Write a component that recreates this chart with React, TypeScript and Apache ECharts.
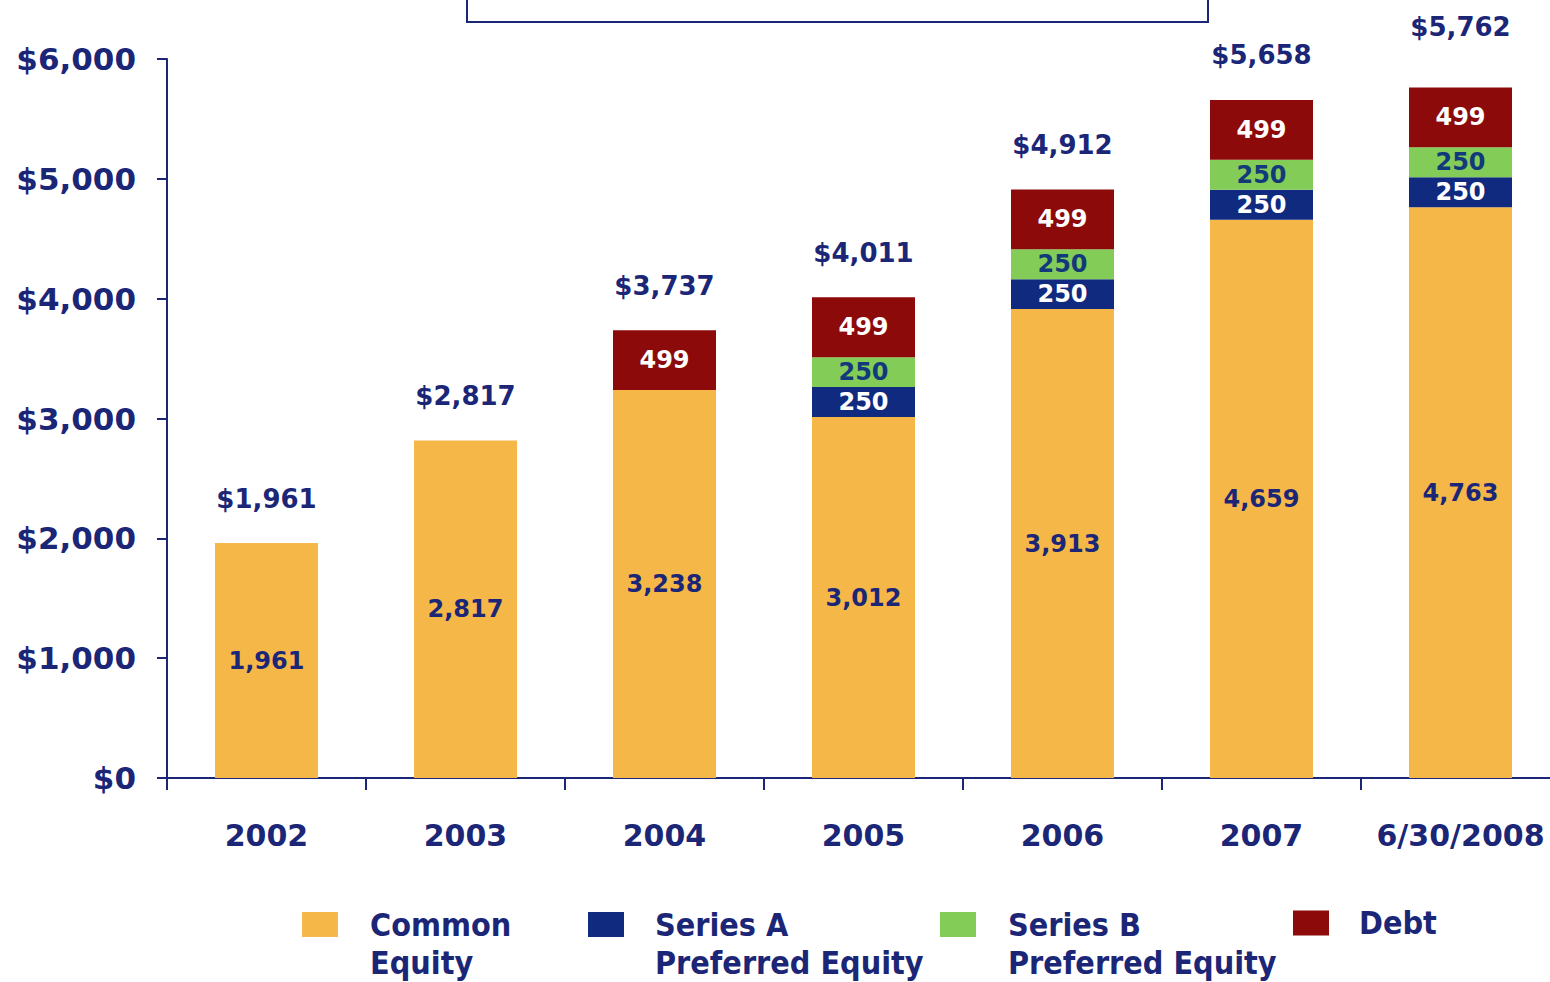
import React, { useEffect, useRef } from "react";
import * as echarts from "echarts";

const categories = ["2002", "2003", "2004", "2005", "2006", "2007", "6/30/2008"];
const commonEquity = [1961, 2817, 3238, 3012, 3913, 4659, 4763];
const seriesA = [null, null, null, 250, 250, 250, 250];
const seriesB = [null, null, null, 250, 250, 250, 250];
const debt = [null, null, 499, 499, 499, 499, 499];
const yTicks = [0, 1000, 2000, 3000, 4000, 5000, 6000];

const NAVY = "#1B2677";
const FONT = "DejaVu Sans";
const LEG_FONT = "'DejaVu Sans Condensed', 'DejaVu Sans', sans-serif";

const fmt = (v: number) => v.toLocaleString("en-US");

export default function App() {
  const ref = useRef<HTMLDivElement>(null);
  useEffect(() => {
    if (!ref.current) return;
    const chart = echarts.init(ref.current, null, { renderer: "svg" });
    const totals = categories.map(
      (_, i) =>
        (commonEquity[i] || 0) + (seriesA[i] || 0) + (seriesB[i] || 0) + (debt[i] || 0)
    );
    const inLabel = (color: string, size: number) => ({
      show: true,
      position: "inside",
      color,
      fontFamily: FONT,
      fontWeight: "bold",
      fontSize: size,
      formatter: (p: any) => fmt(p.value),
    });
    const legendBase = (name: string, left: number, top: number, padLeft: number) => ({
      data: [name],
      left,
      top,
      padding: 0,
      itemWidth: 36,
      itemHeight: 25,
      icon: "rect",
      selectedMode: false,
      formatter: (n: string) =>
        n === "Common Equity"
          ? "\nCommon\nEquity"
          : n === "Series A Preferred Equity"
          ? "\nSeries A\nPreferred Equity"
          : n === "Series B Preferred Equity"
          ? "\nSeries B\nPreferred Equity"
          : n,
      textStyle: {
        color: NAVY,
        fontFamily: LEG_FONT,
        fontWeight: "bold",
        fontSize: 32,
        lineHeight: 38,
        padding: [0, 0, 0, padLeft],
      },
    });
    chart.setOption({
      animation: false,
      backgroundColor: "#ffffff",
      grid: { left: 167, right: -10, top: 59, bottom: 204, outerBoundsMode: "none" },
      legend: [
        legendBase("Common Equity", 302, 867.5, 27),
        legendBase("Series A Preferred Equity", 588, 867.5, 26),
        legendBase("Series B Preferred Equity", 940, 867.5, 27),
        legendBase("Debt", 1293, 904, 25),
      ],
      xAxis: {
        type: "category",
        data: categories,
        axisLine: { show: true, lineStyle: { color: NAVY, width: 2 } },
        axisTick: { show: true, interval: 0, length: 12, lineStyle: { color: NAVY, width: 2 } },
        axisLabel: {
          interval: 0,
          color: NAVY,
          fontFamily: FONT,
          fontWeight: "bold",
          fontSize: 30,
          margin: 42,
        },
        splitLine: { show: false },
      },
      yAxis: {
        type: "value",
        min: 0,
        max: 6000,
        interval: 1000,
        axisLine: { show: true, lineStyle: { color: NAVY, width: 2 } },
        axisTick: { show: true, length: 10, lineStyle: { color: NAVY, width: 2 } },
        axisLabel: {
          color: NAVY,
          fontFamily: FONT,
          fontWeight: "bold",
          fontSize: 31,
          margin: 31,
          formatter: (v: number) => (yTicks.includes(v) ? "$" + fmt(v) : ""),
        },
        splitLine: { show: false },
      },
      series: [
        {
          name: "Common Equity",
          type: "bar",
          stack: "total",
          barWidth: 103,
          data: commonEquity,
          itemStyle: { color: "#F5B848" },
          label: inLabel(NAVY, 24),
        },
        {
          name: "Series A Preferred Equity",
          type: "bar",
          stack: "total",
          barWidth: 103,
          data: seriesA,
          itemStyle: { color: "#102A80" },
          label: inLabel("#ffffff", 24),
        },
        {
          name: "Series B Preferred Equity",
          type: "bar",
          stack: "total",
          barWidth: 103,
          data: seriesB,
          itemStyle: { color: "#84CC58" },
          label: inLabel("#123A7A", 24),
        },
        {
          name: "Debt",
          type: "bar",
          stack: "total",
          barWidth: 103,
          data: debt,
          itemStyle: { color: "#8C0A0A" },
          label: inLabel("#ffffff", 24),
        },
        {
          name: "Total",
          type: "scatter",
          symbolSize: 1,
          itemStyle: { color: "rgba(0,0,0,0)", opacity: 1 },
          data: totals.map((v, i) =>
            i === totals.length - 1 ? { value: v, label: { offset: [0, -16] } } : v
          ),
          label: {
            show: true,
            position: "top",
            distance: 31,
            color: NAVY,
            opacity: 1,
            fontFamily: FONT,
            fontWeight: "bold",
            fontSize: 26,
            formatter: (p: any) => "$" + fmt(p.value),
          },
          z: 10,
        },
      ],
      graphic: [
        {
          type: "rect",
          shape: { x: 467, y: -20, width: 741, height: 42 },
          style: { fill: "#ffffff", stroke: NAVY, lineWidth: 2 },
        },
      ],
    });
    return () => chart.dispose();
  }, []);
  return (
    <div
      ref={ref}
      style={{ position: "fixed", left: 0, top: 0, width: 1550, height: 982, background: "#fff" }}
    />
  );
}
